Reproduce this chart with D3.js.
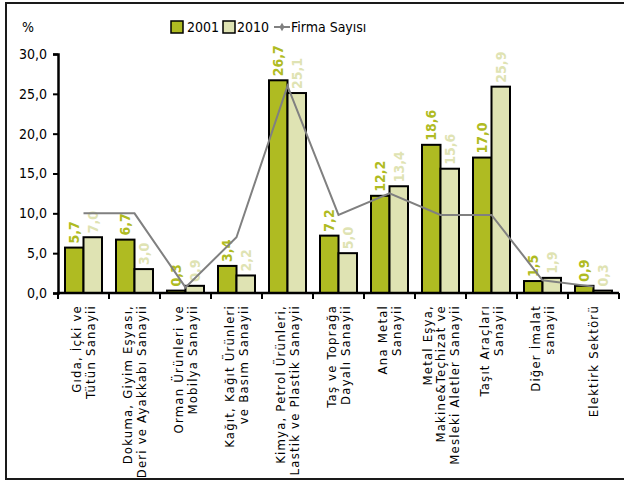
<!DOCTYPE html>
<html><head><meta charset="utf-8">
<script src="https://cdn.jsdelivr.net/npm/d3@7"></script>
<style>
body{margin:0;background:#fff;}
svg text{font-family:"DejaVu Sans Condensed","DejaVu Sans",sans-serif;}
</style></head>
<body><svg id="c" width="624" height="482"></svg>
<script>
const categories = [
  ["Gıda, İçki ve","Tütün Sanayii"],
  ["Dokuma, Giyim Eşyası,","Deri ve Ayakkabı Sanayii"],
  ["Orman Ürünleri ve","Mobilya Sanayii"],
  ["Kağıt, Kağıt Ürünleri","ve Basım Sanayii"],
  ["Kimya, Petrol Ürünleri,","Lastik ve Plastik Sanayii"],
  ["Taş ve Toprağa","Dayalı Sanayii"],
  ["Ana Metal","Sanayii"],
  ["Metal Eşya,","Makine&Teçhizat ve","Mesleki Aletler Sanayii"],
  ["Taşıt Araçları","Sanayii"],
  ["Diğer İmalat","sanayii"],
  ["Elektirk Sektörü"]
];
const values2001 = [5.7, 6.7, 0.3, 3.4, 26.7, 7.2, 12.2, 18.6, 17.0, 1.5, 0.9];
const values2010 = [7.0, 3.0, 0.9, 2.2, 25.1, 5.0, 13.4, 15.6, 25.9, 1.9, 0.3];
const firmaSayisi = [10.0, 10.0, 0.7, 7.0, 26.0, 9.8, 12.5, 9.8, 9.8, 1.6, 0.8];
const yTicks = [0, 5, 10, 15, 20, 25, 30];
const seriesNames = ["2001", "2010", "Firma Sayısı"];

const svg = d3.select("#c");
const fmt = v => d3.format(".1f")(v).replace(".", ",");
const col2001 = "#afbb22", col2010 = "#dfe3b3", colLine = "#808080";

// border
svg.append("rect").attr("x",6).attr("y",3).attr("width",640).attr("height",476)
  .attr("fill","none").attr("stroke","#1a1a1a").attr("stroke-width",2);

const x = d3.scaleBand().domain(d3.range(categories.length)).range([58, 619]).padding(0);
const xs = d3.scaleBand().domain([0,1]).range([7, x.bandwidth()-7]).padding(0);
const y = d3.scaleLinear().domain([0, 30]).range([293, 54]);

const g = svg.append("g");
// bars
const groups = g.selectAll("g.cat").data(categories.map((c,i)=>i)).join("g")
  .attr("transform", i => `translate(${x(i)},0)`);
[values2001, values2010].forEach((vals, s) => {
  groups.append("rect")
    .attr("x", xs(s)).attr("width", xs.bandwidth())
    .attr("y", i => y(vals[i])).attr("height", i => y(0) - y(vals[i]))
    .attr("fill", s === 0 ? col2001 : col2010)
    .attr("stroke", "#000").attr("stroke-width", 2);
  groups.append("text")
    .attr("transform", i => `translate(${xs(s) + xs.bandwidth()/2},${y(vals[i]) - 4}) rotate(-90)`)
    .attr("dy", "0.36em")
    .attr("font-size", 14).attr("font-weight", "bold")
    .attr("fill", s === 0 ? col2001 : col2010)
    .text(i => fmt(vals[i]));
});

// line
const line = d3.line().x((d,i) => x(i) + x.bandwidth()/2).y(d => y(d));
g.append("path").datum(firmaSayisi).attr("d", line)
  .attr("fill","none").attr("stroke", colLine).attr("stroke-width", 2);

// y axis
const yAxis = d3.axisLeft(y).tickValues(yTicks).tickSize(5).tickPadding(6).tickFormat(fmt);
const ya = svg.append("g").attr("transform","translate(58,0)").call(yAxis);
ya.select(".domain").attr("stroke","#000").attr("stroke-width",2.5);
ya.selectAll(".tick line").attr("stroke","#000").attr("stroke-width",2);
ya.selectAll(".tick text").attr("font-size",14).attr("fill","#000");

// x axis
svg.append("line").attr("x1",57).attr("x2",619).attr("y1",y(0)).attr("y2",y(0))
  .attr("stroke","#000").attr("stroke-width",2.5);
svg.selectAll("line.xt").data(d3.range(categories.length+1)).join("line")
  .attr("x1", i => 58 + i*x.bandwidth()).attr("x2", i => 58 + i*x.bandwidth())
  .attr("y1", y(0)).attr("y2", y(0)+6).attr("stroke","#000").attr("stroke-width",2);

// x labels
categories.forEach((lines, i) => {
  const cx = x(i) + x.bandwidth()/2;
  const n = lines.length, lh = 13.5;
  lines.forEach((t, k) => {
    const off = (k - (n-1)/2) * lh;
    svg.append("text")
      .attr("transform", `translate(${cx + off},${305}) rotate(-90)`)
      .attr("text-anchor","end").attr("dy","0.36em")
      .attr("letter-spacing", 1.2)
      .attr("font-size",13).attr("fill","#000").text(t);
  });
});

// % label
svg.append("text").attr("x",22).attr("y",32).attr("font-size",14).attr("fill","#000").text("%");

// legend
const lg = svg.append("g");
lg.append("rect").attr("x",171).attr("y",21).attr("width",12).attr("height",12).attr("fill",col2001).attr("stroke","#000").attr("stroke-width",1.5);
lg.append("text").attr("x",187).attr("y",32).attr("font-size",14).text(seriesNames[0]);
lg.append("rect").attr("x",223).attr("y",21).attr("width",12).attr("height",12).attr("fill",col2010).attr("stroke","#000").attr("stroke-width",1.5);
lg.append("text").attr("x",237).attr("y",32).attr("font-size",14).text(seriesNames[1]);
lg.append("line").attr("x1",274).attr("x2",290).attr("y1",27).attr("y2",27).attr("stroke",colLine).attr("stroke-width",2);
lg.append("path").attr("d", d3.symbol(d3.symbolDiamond, 22)()).attr("transform","translate(282,27)").attr("fill",colLine);
lg.append("text").attr("x",291).attr("y",32).attr("font-size",14).text(seriesNames[2]);
</script></body></html>
